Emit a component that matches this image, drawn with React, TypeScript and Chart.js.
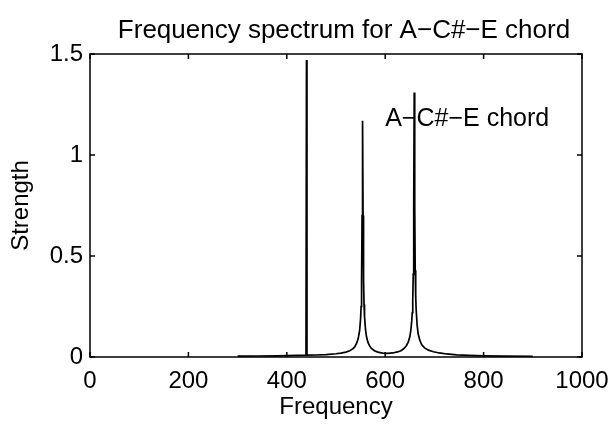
import React, { useEffect, useRef } from "react";
import { Chart, registerables } from "chart.js";

Chart.register(...registerables);

const titleText = "Frequency spectrum for A\u2212C#\u2212E chord";
const xLabel = "Frequency";
const yLabel = "Strength";
const xTicks = [0, 200, 400, 600, 800, 1000];
const yTicks = [0, 0.5, 1, 1.5];
const noteLabel = "A\u2212C#\u2212E chord";
const noteX = 600;
const noteY = 1.18;

const freqs = [
  300, 340, 380, 420, 439, 440, 441, 460, 480, 500, 510, 520, 528, 534, 538, 542, 545, 548, 550, 551,
  552, 553, 554, 555, 556, 557, 558, 560, 562, 565, 568, 572, 578, 585, 595, 605, 615, 625, 632, 638,
  643, 647, 650, 652, 654, 655, 656, 657, 658, 659, 660, 661, 662, 663, 665, 667, 670, 674, 680, 688,
  698, 710, 725, 745, 770, 800, 840, 900,
];
const strengths = [
  0.004, 0.005, 0.006, 0.008, 0.009, 1.47, 0.009, 0.01, 0.012, 0.016, 0.019, 0.024, 0.031, 0.04, 0.05, 0.068, 0.09, 0.13, 0.19, 0.25,
  0.38, 0.7, 1.17, 0.7, 0.38, 0.26, 0.2, 0.135, 0.1, 0.072, 0.056, 0.042, 0.031, 0.024, 0.019, 0.018, 0.02, 0.025, 0.031, 0.042,
  0.056, 0.075, 0.1, 0.13, 0.18, 0.22, 0.28, 0.41, 0.75, 1.31, 0.75, 0.43, 0.3, 0.23, 0.155, 0.115, 0.085, 0.062, 0.045, 0.034,
  0.026, 0.02, 0.015, 0.011, 0.008, 0.006, 0.004, 0.003,
];

const FONT = "'Liberation Sans', Arial, Helvetica, sans-serif";

const framePlugin = {
  id: "matlabFrame",
  afterDatasetsDraw(chart: any) {
    const { ctx, chartArea } = chart;
    const { left, right, top, bottom } = chartArea;
    const xs = chart.scales.x;
    const ys = chart.scales.y;
    const tl = 5;
    ctx.save();
    ctx.strokeStyle = "#000";
    ctx.lineWidth = 1.5;
    ctx.beginPath();
    for (const v of xTicks) {
      const px = xs.getPixelForValue(v);
      ctx.moveTo(px, bottom);
      ctx.lineTo(px, bottom - tl);
      ctx.moveTo(px, top);
      ctx.lineTo(px, top + tl);
    }
    for (const v of yTicks) {
      const py = ys.getPixelForValue(v);
      ctx.moveTo(left, py);
      ctx.lineTo(left + tl, py);
      ctx.moveTo(right, py);
      ctx.lineTo(right - tl, py);
    }
    ctx.stroke();
    ctx.strokeRect(left, top, right - left, bottom - top);
    ctx.fillStyle = "#000";
    ctx.font = `25px ${FONT}`;
    ctx.textAlign = "left";
    ctx.textBaseline = "middle";
    ctx.fillText(noteLabel, xs.getPixelForValue(noteX), ys.getPixelForValue(noteY));
    ctx.font = `26px ${FONT}`;
    ctx.textAlign = "center";
    ctx.textBaseline = "alphabetic";
    ctx.fillText(titleText, (left + right) / 2 + 8, 38);
    ctx.restore();
  },
};

export default function App() {
  const ref = useRef<HTMLCanvasElement | null>(null);
  useEffect(() => {
    if (!ref.current) return;
    const chart = new Chart(ref.current, {
      type: "line",
      data: {
        datasets: [
          {
            data: freqs.map((f, i) => ({ x: f, y: strengths[i] })),
            borderColor: "#000",
            borderWidth: 1.7,
            pointRadius: 0,
            tension: 0,
            fill: false,
          },
        ],
      },
      options: {
        responsive: false,
        animation: false,
        events: [],
        layout: { padding: { left: 0, right: 34, top: 54, bottom: 0 } },
        plugins: {
          legend: { display: false },
          tooltip: { enabled: false },
          title: { display: false },
        },
        scales: {
          x: {
            type: "linear",
            min: 0,
            max: 1000,
            grid: { display: false, drawTicks: false },
            border: { display: false },
            afterBuildTicks: (s: any) => {
              s.ticks = xTicks.map((v) => ({ value: v }));
            },
            afterFit: (s: any) => {
              s.height = 67;
              s.paddingLeft = 0;
              s.paddingRight = 0;
            },
            ticks: {
              color: "#000",
              font: { family: FONT, size: 24 },
              padding: 10,
              maxRotation: 0,
              autoSkip: false,
              callback: (v: any) => String(v),
            },
            title: {
              display: true,
              text: xLabel,
              color: "#000",
              font: { family: FONT, size: 24 },
              padding: { top: 0, bottom: 2 },
            },
          },
          y: {
            type: "linear",
            min: 0,
            max: 1.5,
            grid: { display: false, drawTicks: false },
            border: { display: false },
            afterBuildTicks: (s: any) => {
              s.ticks = yTicks.map((v) => ({ value: v }));
            },
            afterFit: (s: any) => {
              s.width = 90;
              s.paddingTop = 0;
              s.paddingBottom = 0;
            },
            ticks: {
              color: "#000",
              font: { family: FONT, size: 24 },
              padding: 7,
              autoSkip: false,
              callback: (v: any) => String(v),
            },
            title: {
              display: true,
              text: yLabel,
              color: "#000",
              font: { family: FONT, size: 24 },
              padding: { top: 7, bottom: 0 },
            },
          },
        },
      },
      plugins: [framePlugin],
    });
    return () => chart.destroy();
  }, []);
  return (
    <div style={{ position: "absolute", left: 0, top: 0, width: 616, height: 424, background: "#fff" }}>
      <canvas ref={ref} width={616} height={424} style={{ display: "block" }} />
    </div>
  );
}
